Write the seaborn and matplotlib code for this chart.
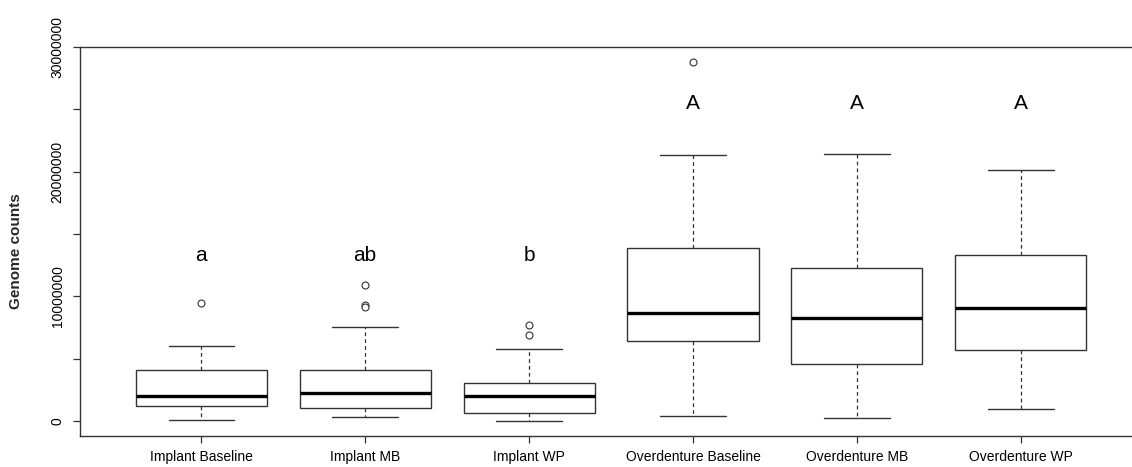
import pandas as pd
import matplotlib
matplotlib.use("Agg")
import matplotlib.pyplot as plt
import seaborn as sns

# Grupos y estadisticos
grupos = ["Implant Baseline", "Implant MB", "Implant WP",
          "Overdenture Baseline", "Overdenture MB", "Overdenture WP"]
bigote_inf = [50000, 320000, 30000, 430000, 210000, 960000]
q1 = [1230000, 1040000, 620000, 6440000, 4570000, 5720000]
mediana = [2030000, 2270000, 2030000, 8640000, 8290000, 9090000]
q3 = [4070000, 4120000, 3070000, 13850000, 12300000, 13340000]
bigote_sup = [6020000, 7570000, 5750000, 21340000, 21420000, 20160000]

# Valores atipicos
atipicos_grupo = ["Implant Baseline", "Implant MB", "Implant MB", "Implant MB",
                  "Implant WP", "Implant WP", "Overdenture Baseline"]
atipicos_valor = [9450000, 10930000, 9300000, 9150000, 7700000, 6900000, 28820000]

# Letras de significancia
letras = ["a", "ab", "b", "A", "A", "A"]
letras_y = [12800000, 12800000, 12800000, 25000000, 25000000, 25000000]

# DataFrame con los cinco numeros por grupo
filas = []
for i, g in enumerate(grupos):
    for v in [bigote_inf[i], q1[i], mediana[i], q3[i], bigote_sup[i]]:
        filas.append({"Grupo": g, "Conteo": v})
df = pd.DataFrame(filas)
df_atip = pd.DataFrame({"Grupo": atipicos_grupo, "Conteo": atipicos_valor})

sns.set_theme(style="ticks")
plt.rcParams["font.family"] = ["Liberation Sans", "DejaVu Sans"]

fig = plt.figure(figsize=(11.32, 4.67), dpi=100)
ax = fig.add_axes([80 / 1132, 1 - 436 / 467, (1142 - 80) / 1132, (436 - 47) / 467])

borde = "#333333"
sns.boxplot(data=df, x="Grupo", y="Conteo", order=grupos, whis=(0, 100),
            width=0.8, color="white", linecolor=borde, linewidth=1.0,
            medianprops=dict(color="black", linewidth=2.4),
            whiskerprops=dict(linestyle=(0, (3, 2.5)), linewidth=0.9),
            capprops=dict(linewidth=1.0), ax=ax)

sns.stripplot(data=df_atip, x="Grupo", y="Conteo", order=grupos, jitter=False,
              color="white", edgecolor=borde, linewidth=0.8, size=5, ax=ax)

for i, (l, y) in enumerate(zip(letras, letras_y)):
    ax.text(i, y, l, ha="center", va="baseline", fontsize=15, color="black")

ax.set_xlim(-0.74, 5.74)
ax.set_ylim(-1.2e6, 3.0e7)

ticks = [0, 5e6, 1e7, 1.5e7, 2e7, 2.5e7, 3e7]
ax.set_yticks(ticks)
ax.set_yticklabels(["0", "", "10000000", "", "20000000", "", "30000000"],
                   rotation=90, va="center", fontsize=10)
ax.tick_params(axis="both", length=5, width=0.9, color=borde, labelcolor="black")
ax.tick_params(axis="x", labelsize=10, pad=5)
ax.tick_params(axis="y", pad=6)

ax.set_xlabel("")
ax.set_ylabel("Genome counts", fontsize=11, fontweight="bold")
ax.yaxis.set_label_coords(-0.054, 0.474)

for lado in ["left", "top", "bottom", "right"]:
    ax.spines[lado].set_visible(True)
    ax.spines[lado].set_color(borde)
    ax.spines[lado].set_linewidth(1.0)

fig.savefig("out.png", dpi=100)
